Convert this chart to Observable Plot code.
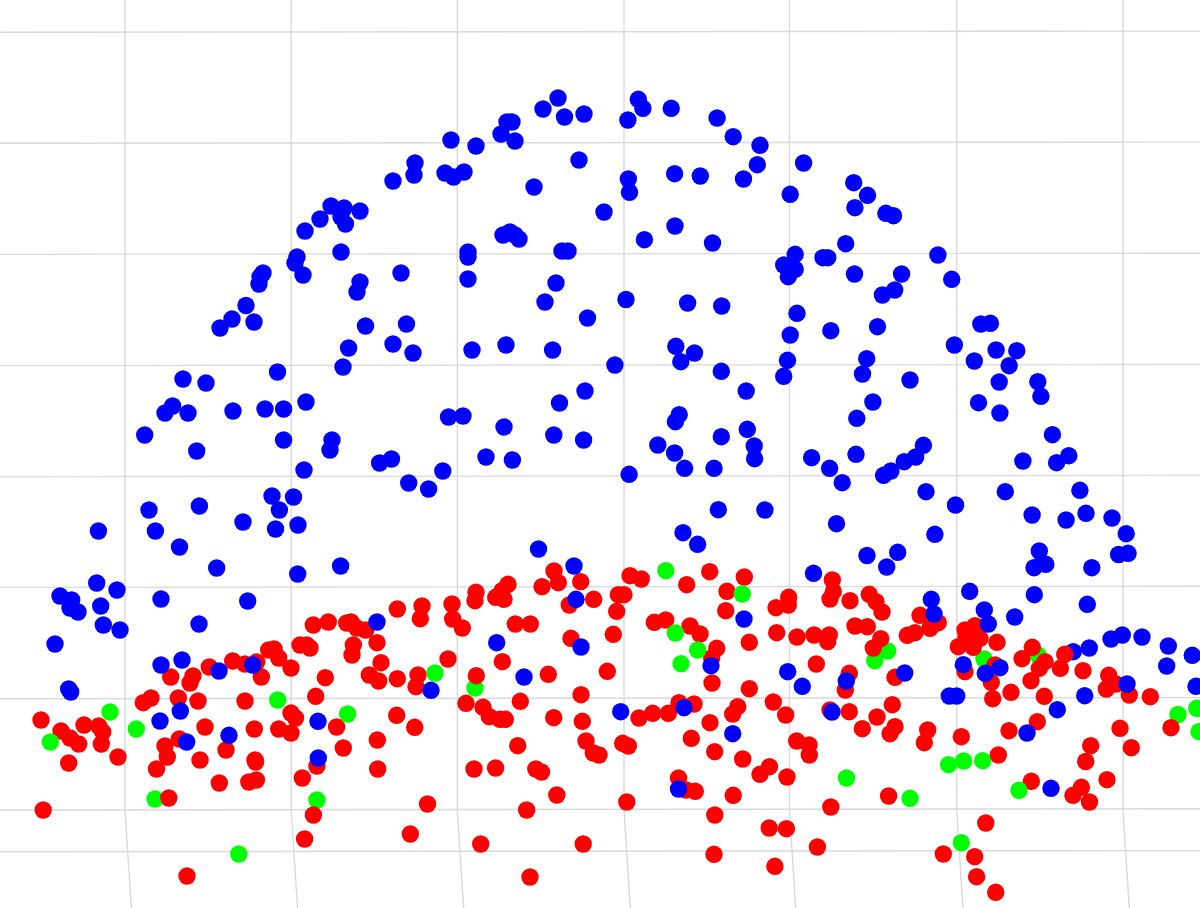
<!DOCTYPE html>
<html><head><meta charset="utf-8">
<script src="https://cdn.jsdelivr.net/npm/d3@7"></script>
<script src="https://cdn.jsdelivr.net/npm/@observablehq/plot@0.6"></script>
<style>html,body{margin:0;padding:0;background:#fff;overflow:hidden}svg{display:block}</style>
</head><body><div id="chart"></div>
<script>
const meridians = [125,291.2,457.3,624,789.4,956.7,1123];
const meridianY = [0,810,852,908];
const meridianBend = [0,0,2.7,6.3];
const parallels = [32.3,143.3,254.4,365.6,476.6,587.4,698.8,810,851.8];
const parallelTilt = -1.2;

const blue = [[305,231],[320,219],[331,206],[344,208],[341,217],[345.5,224],[360,211],[341,252],[393,181],[414,175],[415,163],[445,173],[453.5,177],[464,172],[451,140],[476,146],[501,134],[515,141],[507,122],[512,122],[543,109],[558,98],[564.5,117],[584,114],[579,160],[534,187],[604,212],[503,235],[510,232],[515,235],[519,239],[562,251],[568,251],[468,252],[468,257],[468,279],[401,273],[360,282],[357,292],[556,283],[545,302],[297,257],[295,263],[303,275],[263,273],[260,277],[259,284],
[246,305.5],[232,319],[220,328],[254,322],[365.5,326],[406.5,324],[348.6,348],[393,344],[413,353],[343,367],[472,350],[506,345],[552.6,350],[587.5,318],[277.5,372],[183,379],[206,383],[306,402],[172.6,406],[165,413],[188,413],[233,411],[265,409],[283.6,409],[144.7,435],[196.7,451],[283.6,440],[332,440],[330,450],[448.5,417],[463,416],[504,427],[585,391],[559.5,403],[553.8,435],[583.6,440],[379.6,463],[391.5,459],[304,470],[486,457],[512.4,460],[442.8,471],[408.7,483],[428.6,489],[272,496],[293.5,497],[279.4,510],[149,510],[199.4,506],[155.4,531],[243,522],[275.5,529],[298,525],[98.4,531],[179.5,547],[216.7,568],[297.7,574],[340.6,566],[538.5,549],[574,566],
[96.7,583],[117,590],[60,596],[71.7,600],[70,608],[78,612],[100.7,606],[161,599],[247.7,601],[103.3,625],[120,630],[199,624],[55,644],[161,665],[182,660],[219,671],[252.7,665],[68.7,689],[70.7,692],[180.3,711],[160,721],[186.7,742],[229,735.3],
[377,622],[496.7,642.7],[431,690.3],[524,677],[318,721.3],[318.3,758],[576,599.3],[581,647],
[813.5,573.3],[886.7,567],[867,555.5],[744,619],[711,665.7],[787.7,671.7],[802.3,686.3],[846.3,681],[620.7,711.7],[684,707.7],[732.7,733.7],[832,712],
[931.3,599.3],[934,614],[969.7,591.3],[984.3,610],[988.3,624],[1034.3,594.7],[1014.7,617],[1087.3,604.3],[1089.3,648],[1111,639],[1122.3,635],[1142,637],[1168.3,646],[1166.7,666],[1192.3,655.3],[1196,686.3],[1127,684],[1084.7,695.7],[1057.3,709.7],[1027,733],[1000,667.7],[985.3,673.3],[963.3,664.7],[949.3,696],[956.7,696],[904.7,673],[1051,788.3],[678.5,789],
[638.3,99.3],[642.9,108.3],[627.9,120],[671.2,108.3],[717.1,118],[733.2,136.7],[760,145.3],[757.3,164.7],[743.5,179],[803.6,163],[790.2,194.3],[853.7,182.7],[867.5,195.3],[854.9,207.7],[885.9,213.3],[893.5,215.7],[674.6,173.7],[700.3,176],[628.3,179],[629.5,192.3],[675,226],[644.4,239.7],[712.5,243],[845.7,243.7],[937.9,255],[951.7,279.3],[795.2,254.3],[783.7,265],[795.2,269.3],[788.3,276.7],[789.4,265],[823,257.7],[827.7,257.7],[854.5,274],[901.6,274],[894.7,290],[882.4,295],
[626,299.5],[687.6,303],[721.7,306],[797,313.3],[790.2,335],[830.8,330.7],[877.5,326.7],[980.8,324],[990.4,323.3],[954.4,345],[996.1,350],[1016.8,350.7],[974.3,361],[1009.1,365.7],[675.8,346.3],[694.5,353],[680.8,361.7],[614.9,365],[787.5,360.3],[783.7,376.3],[866.7,358.7],[862.5,374],[910,380],[721.3,371.3],[746.2,391],[999.2,382],[1037.8,381.7],[1040.9,396.3],[978.5,402.7],[999.9,413],[872.9,402],[856.8,418.3],[679.2,414.7],[675.4,421.7],[747.3,429.3],[721.3,436.7],[754.2,446],[754.6,458.7],[657.8,445],[674.6,453],[684.6,468.3],[714,468.3],[629.1,474.3],[811.6,457.7],[829.6,468.3],[842.2,482.7],[856,454.3],[923.4,445.3],[915.7,457],[904.2,461.7],[890.9,471],[883.6,475.3],[1052.4,434.7],[1068.8,455.7],[1056.6,462.7],[1022.9,461],[926,491.7],[955.5,505],[1005.3,491.7],[1079.9,490.3],[1032.1,515],[1066.1,520],[1086,513.3],[1112,518],[1126.2,533.7],[934.9,534.3],[836.5,523.7],[718.3,509.7],[764.9,510],[683,532.7],[697.6,544.3],[897.7,552.3],[1039.3,551],[1034,567.7],[1045.8,564.3],[1042,563],[1091.8,567.7],[1118.6,554.5],[1128.1,553.3]];

const blueBelowRed = [[1073.3,651.7]];

const red = [[41,720],[61,731],[70,738],[78.7,744],[84,725],[98.7,726],[102.7,732],[101.3,744],[118,757],[170.7,677],[193,676],[190,683],[209.3,667],[232.7,661],[245,664],[256.7,662],[261.3,677],[268.7,650],[274,649],[278.7,658],[291,668],[300,645],[151,698],[143.3,702.7],[178.3,698],[198,701],[245,701],[291,713],[295.5,718],[278.7,729],[291,733],[205,727],[254.3,729],[165,746],[179.3,739],[226,750],[167.3,757],[200,760],[255,760],[68.7,763],
[156.5,769],[255.6,762],[219.3,783],[248.8,782],[256.4,780],[302.3,778],[316.9,766],[168.8,798],[43.2,810],[313.4,815],[304.6,839],[187,876],[410.3,834],[427.5,804],[474,769],[495.6,768],[535.8,769],[541.5,772],[556.8,795],[526.6,810],[480.7,844],[583.2,844],[530,877],[377.7,769],[377.3,740],[343.3,748],[336.6,727],
[313.3,625],[328.3,622],[346.7,623],[351,622],[356.7,628],[365.7,630],[353.3,645],[352,655],[377,642.7],[381,662.7],[369.3,675],[378.7,681],[397.3,678.7],[418,675],[416,686.7],[448,659],[397.3,609],[422,606],[420.3,618.7],[452,604],[452.7,619],[462.3,628],[476,592.3],[475,600.7],[495.7,597.3],[502,590.7],[508,584.3],[504,599.3],[542,586.7],[554,571],[558.3,582.7],[580.7,581.7],[569.3,605],[593.7,599.3],[515.3,624],[530.3,624],[571,638.3],[502.3,661.7],[476.3,675.7],[548.3,674.3],[520.3,701.3],[581,694.7],[582.3,721.3],[553.7,717.7],[466,703.3],[483,707.3],[489.3,716.7],[500,719.3],[505.3,719.3],[517.7,745.7],[586,741],[593.3,753],[599,755],[306.7,645],[310,648],[325.3,677.7],[315.7,696.3],[396.7,715.3],[414.7,727.3],
[630,575.7],[641.3,579],[686.7,584.7],[709.7,571.7],[744.3,577],[727,591.3],[618.3,594.7],[624,594.7],[616.7,611.3],[613.3,634.3],[654.3,622.3],[665.7,620],[690,626],[700,634],[716.7,648.3],[711.7,658],[725.7,610.7],[749.3,642.3],[607.3,671.3],[712,683],[749.3,688.7],[776.7,632.7],[797,637],[814,635],[829.3,635],[827.7,641.7],[776,607.7],[788.7,597.3],[788.3,605],[832.3,580],[833.3,591.7],[830,599],[850,600.7],[869.3,594.3],[876,601.7],[882,612],[855,626],[867.3,626.7],[880.7,638.7],[873.3,648],[816.3,664],[849.3,673.3],[845.3,690],[895,677.3],[679,702.7],[694,704],[668.3,713.3],[652.7,713.3],[639,718],[710,722.7],[737.7,706.7],[732.7,714],[773.3,702],[785.7,715],[691.3,738.3],[622.7,743.3],[628.3,746],[714.7,751.7],[742.7,759],[796.7,741],[809,745],[809.3,755],[830,710],[849.3,711.7],[892.3,704.7],[877,717],[862.3,728.7],[890,733.7],[895,726.7],
[920,615.3],[938.3,622.7],[930,628.3],[915,632.7],[907.3,635.3],[965,630],[975,625.7],[980,638.3],[971.7,635],[966,637],[976,632],[972,641],[958.3,646.7],[973.3,647.3],[997,642.3],[965,671.7],[995,665],[991.3,682.3],[992.7,698.7],[1011,692.3],[1032.3,647.3],[1022,658.7],[1045,661.7],[1039.3,668.3],[1031,680.7],[1060.3,668.3],[1064.7,654.3],[1083,670.7],[1044.3,696.3],[1037.3,721.7],[1009,730.7],[961.3,736.7],[927.7,730],[924.3,742.7],[998.3,755],[1108.7,675.3],[1116,684],[1106.3,689],[1129.3,695],[1150.3,696.7],[1120,728.3],[1171,727.7],[1090.7,745.7],[1131.3,747.7],[1085.7,761.5],
[1031.3,781.3],[1107,779.7],[1081.4,787.3],[1073,795.3],[1089.5,802],[985.8,823],[943.3,854],[974.7,856.7],[976.6,876.7],[995.7,892.3],[888.6,796],[830.8,807],[817.4,847],[786.4,828.7],[769.2,828],[774.9,866.3],[714,854.3],[714.8,815],[733.2,795.3],[695.3,791.3],[678.5,778],[686,790],[626.8,802],[787,777],[769.5,766.7],[760,774.3]];

const green = [[110,712],[136.3,729],[277.7,700],[238.8,854],[155,799],[316.9,800],[475,688],[665.8,570.7],[681,663.7],[887.7,651],[874.7,660.7],[984,659],[1038,655],[1178,714.5],[1196.7,708.3],[1199,731.7],[846.5,778],[910,798.3],[948.6,764.7],[963.6,761],[982.7,760.7],[961.3,842.7]];
const greenAboveRed = [[50.3,742],[347.6,714],[435,673],[742.3,594],[675.3,633],[697.7,650],[1019,790.3]];

const gridLines = [
  ...meridians.map(x => meridianY.map((y,i) => [x + meridianBend[i], y])),
  ...parallels.map(y => [[0, y], [1200, y + parallelTilt]])
];
const gridMark = Plot.line(gridLines.flatMap((l,k) => l.map(p => ({x:p[0],y:p[1],k}))),
  {x:"x", y:"y", z:"k", stroke:"#d9d9de", strokeWidth:1.4, curve:"linear"});
const dots = (data, fill) => Plot.dot(data, {x:d=>d[0], y:d=>d[1], r:8.7, fill, stroke:"none"});

const plot = Plot.plot({
  width:1200, height:908, margin:0,
  style:{background:"#fff", overflow:"hidden"},
  x:{domain:[0,1200], range:[-0.5,1199.5], axis:null},
  y:{domain:[0,908], range:[-0.5,907.5], axis:null},
  marks:[gridMark, dots(green,"#00ff00"), dots(blueBelowRed,"#0000ff"), dots(red,"#ff0000"), dots(greenAboveRed,"#00ff00"), dots(blue,"#0000ff")]
});
document.getElementById("chart").append(plot);
</script></body></html>
